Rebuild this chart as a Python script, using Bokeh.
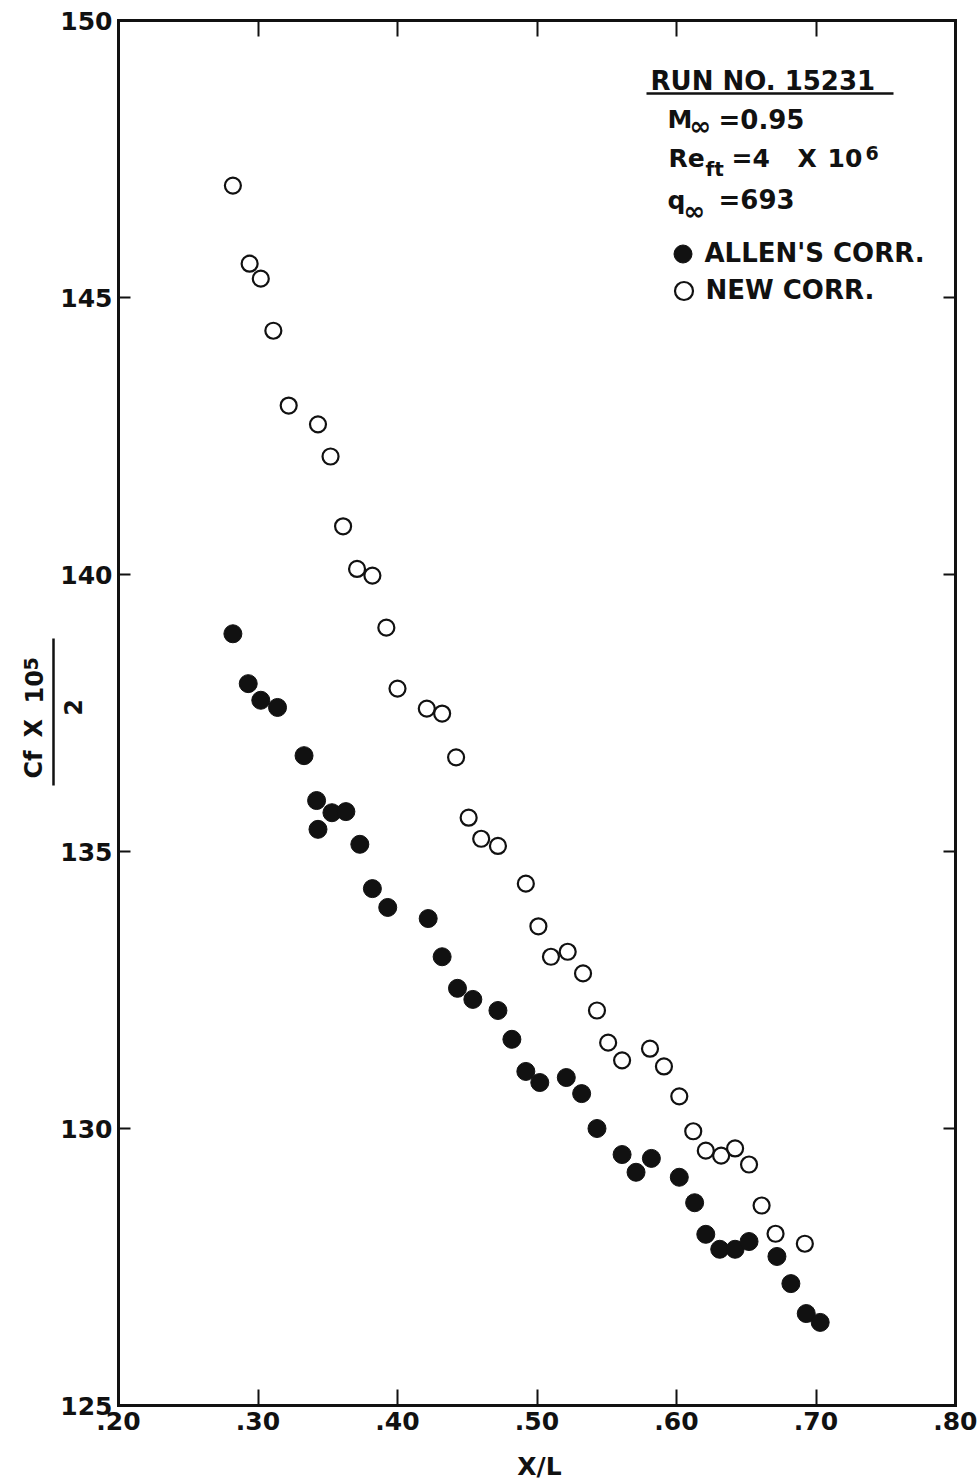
import math
from bokeh.plotting import figure
from bokeh.models import (Range1d, LinearAxis, FixedTicker, CustomJSTickFormatter,
                          Label, Legend, LegendItem, Arrow)
from bokeh.embed import file_html
from bokeh.resources import INLINE

# ---- data ----
x_new = [0.282, 0.294, 0.302, 0.311, 0.322, 0.343, 0.352, 0.361, 0.371, 0.382,
         0.392, 0.400, 0.421, 0.432, 0.442, 0.451, 0.460, 0.472, 0.492, 0.501,
         0.510, 0.522, 0.533, 0.543, 0.551, 0.561, 0.581, 0.591, 0.602, 0.612,
         0.621, 0.632, 0.642, 0.652, 0.661, 0.671, 0.692]
cf_new = [147.02, 145.61, 145.34, 144.40, 143.05, 142.71, 142.13, 140.87, 140.10, 139.98,
          139.04, 137.94, 137.58, 137.49, 136.70, 135.61, 135.23, 135.10, 134.42, 133.65,
          133.10, 133.19, 132.80, 132.13, 131.55, 131.23, 131.44, 131.12, 130.58, 129.95,
          129.60, 129.51, 129.64, 129.35, 128.61, 128.10, 127.92]

x_allen = [0.282, 0.293, 0.302, 0.314, 0.333, 0.342, 0.353, 0.363, 0.343, 0.373,
           0.382, 0.393, 0.422, 0.432, 0.443, 0.454, 0.472, 0.482, 0.492, 0.502,
           0.521, 0.532, 0.543, 0.561, 0.571, 0.582, 0.602, 0.613, 0.621, 0.631,
           0.642, 0.652, 0.672, 0.682, 0.693, 0.703]
cf_allen = [138.93, 138.03, 137.73, 137.60, 136.73, 135.92, 135.70, 135.72, 135.40, 135.13,
            134.33, 133.99, 133.79, 133.10, 132.53, 132.33, 132.13, 131.61, 131.03, 130.83,
            130.92, 130.63, 130.00, 129.53, 129.21, 129.46, 129.12, 128.66, 128.09, 127.82,
            127.82, 127.96, 127.69, 127.20, 126.66, 126.50]

x_ticks = [0.2, 0.3, 0.4, 0.5, 0.6, 0.7, 0.8]
y_ticks = [125, 130, 135, 140, 145, 150]
x_lo, x_hi = 0.2, 0.8
y_lo, y_hi = 125, 150

INK = "#111111"
FONT = "DejaVu Sans"

W, H = 977, 1481
AX_L, AX_R, AX_T, AX_B = 118, 955, 20, 1405     # axis box in page pixels
# The plot frame covers the whole page; the axes sit at fixed data locations
kx = (x_hi - x_lo) / (AX_R - AX_L)
ky = (y_hi - y_lo) / (AX_B - AX_T)
x_range = Range1d(x_lo - AX_L * kx, x_hi + (W - AX_R) * kx)
y_range = Range1d(y_lo - (H - AX_B) * ky, y_hi + AX_T * ky)

p = figure(width=W, height=H, output_backend="svg", toolbar_location=None,
           x_range=x_range, y_range=y_range,
           x_axis_location=None, y_axis_location=None,
           min_border_left=0, min_border_right=0,
           min_border_top=0, min_border_bottom=0)
p.xgrid.visible = False
p.ygrid.visible = False
p.outline_line_color = None
p.background_fill_color = "white"
p.border_fill_color = "white"

fmt = CustomJSTickFormatter(code="return tick.toFixed(2).replace(/^0/, '');")


def style_axis(ax, tick_in, labels=True):
    ax.axis_line_color = INK
    ax.axis_line_width = 3
    ax.axis_line_cap = "square"
    ax.major_tick_line_color = INK
    ax.major_tick_line_width = 2
    ax.major_tick_in = tick_in
    ax.major_tick_out = 0
    ax.minor_tick_line_color = None
    ax.major_label_text_font = FONT
    ax.major_label_text_font_style = "bold"
    ax.major_label_text_color = INK
    if labels:
        ax.major_label_text_font_size = "25px"
    else:
        ax.major_label_text_font_size = "0px"
        ax.major_label_text_alpha = 0


xb = LinearAxis(ticker=FixedTicker(ticks=x_ticks), formatter=fmt,
                bounds=(x_lo, x_hi), fixed_location=y_lo)
style_axis(xb, 16)
xb.major_label_standoff = 6
p.add_layout(xb, "below")

xt = LinearAxis(ticker=FixedTicker(ticks=x_ticks), formatter=fmt,
                bounds=(x_lo, x_hi), fixed_location=y_hi)
style_axis(xt, 16, labels=False)
p.add_layout(xt, "above")

yl = LinearAxis(ticker=FixedTicker(ticks=y_ticks), bounds=(y_lo, y_hi), fixed_location=x_lo)
style_axis(yl, 12)
yl.major_label_standoff = 6
p.add_layout(yl, "left")

yr = LinearAxis(ticker=FixedTicker(ticks=y_ticks), bounds=(y_lo, y_hi), fixed_location=x_hi)
style_axis(yr, 12, labels=False)
p.add_layout(yr, "right")

r_allen = p.scatter(x_allen, cf_allen, marker="circle", size=18,
                    fill_color=INK, line_color=INK, line_width=1)
r_new = p.scatter(x_new, cf_new, marker="circle", size=16,
                  fill_color=None, line_color=INK, line_width=2.2)


def fy(py):
    return H - py


def txt(t, px, py, size, angle=0.0, align="left"):
    # py is the vertical middle of the capitals (page pixels)
    p.add_layout(Label(x=px, y=fy(py), x_units="screen", y_units="screen",
                       text=t, text_font=FONT, text_font_style="bold",
                       text_font_size=f"{size}px", text_color=INK,
                       text_align=align, text_baseline="middle",
                       angle=angle))


def line(px0, py0, px1, py1, w=2.5):
    p.add_layout(Arrow(x_start=px0, y_start=fy(py0), x_end=px1, y_end=fy(py1),
                       start_units="screen", end_units="screen", end=None, start=None,
                       line_color=INK, line_width=w))


# x-axis title
txt("X/L", 539, 1466, 25, align="center")

# info block
txt("RUN NO. 15231", 650, 80.5, 26)
line(646, 93, 893, 93, 2.5)
txt("M", 667, 119, 25)
txt("\u221e", 689, 125.5, 26)
txt("=0.95", 718, 119, 26)
txt("Re", 668, 157.5, 25)
txt("ft", 705, 168, 20)
txt("=4", 731, 157.5, 25)
txt("X", 797, 157.5, 25)
txt("10", 827, 157.5, 25)
txt("6", 865, 152.5, 19)
txt("q", 667, 199.5, 25)
txt("\u221e", 683, 210, 26)
txt("=693", 718, 199.5, 26)

# legend (two single-item legends to match row spacing)
for label, rend, cx, cy in [("ALLEN'S CORR.", r_allen, 682, 253),
                            ("NEW CORR.", r_new, 683, 290)]:
    leg = Legend(items=[LegendItem(label=label, renderers=[rend])],
                 location=(cx - 22.5, fy(cy + 22.5)),
                 glyph_width=45, glyph_height=45, label_standoff=-4,
                 padding=0, margin=0, spacing=0,
                 border_line_color=None, background_fill_alpha=0,
                 label_text_font=FONT, label_text_font_style="bold",
                 label_text_font_size="26px", label_text_color=INK,
                 label_height=45)
    p.add_layout(leg, "center")

# y-axis title: (Cf X 10^5) / 2, rotated
rot = math.pi / 2
txt("Cf", 33.5, 778, 24, angle=rot)
txt("X", 33.5, 737, 24, angle=rot)
txt("10", 33.5, 703, 24, angle=rot)
txt("5", 30.5, 670, 19, angle=rot)
line(53, 785, 53, 638, 2.5)
txt("2", 72, 707, 24, angle=rot, align="center")

open("out.html", "w").write(file_html(p, INLINE))
